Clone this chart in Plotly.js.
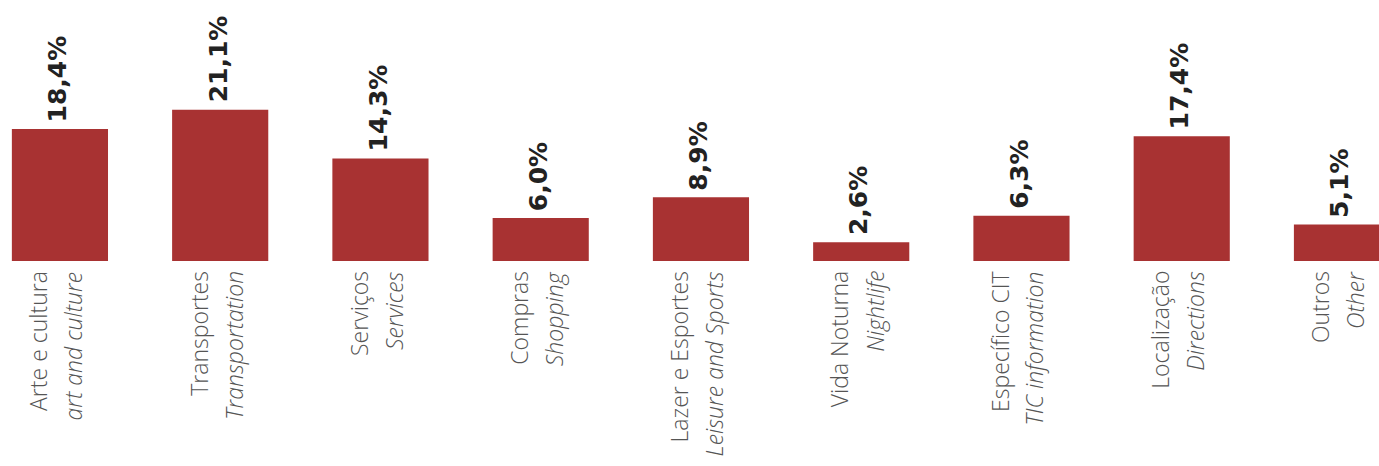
<!DOCTYPE html>
<html>
<head>
<meta charset="utf-8">
<script src="https://cdn.plot.ly/plotly-3.0.1.min.js"></script>
<style>html,body{margin:0;padding:0;background:#fff;}#chart{width:1379px;height:466px;}</style>
</head>
<body>
<div id="chart"></div>
<script>
const categoriesPt = ["Arte e cultura", "Transportes", "Serviços", "Compras", "Lazer e Esportes", "Vida Noturna", "Específico CIT", "Localização", "Outros"];
const categoriesEn = ["art and culture", "Transportation", "Services", "Shopping", "Leisure and Sports", "Nightlife", "TIC information", "Directions", "Other"];
const values = [18.4, 21.1, 14.3, 6.0, 8.9, 2.6, 6.3, 17.4, 5.1];

const valueLabels = values.map(v => v.toFixed(1).replace('.', ',') + '%');
const xIdx = categoriesPt.map((_, i) => i);

const annotations = [];
xIdx.forEach(i => {
  annotations.push({
    x: i, y: values[i], xref: 'x', yref: 'y',
    text: valueLabels[i], showarrow: false, textangle: -90,
    xanchor: 'center', yanchor: 'bottom', yshift: 5, xshift: -2,
    font: {family: 'DejaVu Sans', size: 25, color: '#222222', weight: 'bold'}
  });
  annotations.push({
    x: i, y: 0, xref: 'x', yref: 'paper',
    text: categoriesPt[i], showarrow: false, textangle: -90,
    xanchor: 'center', yanchor: 'top', yshift: -8, xshift: -22,
    font: {family: 'Open Sans', size: 23, color: '#555555', weight: 300}
  });
  annotations.push({
    x: i, y: 0, xref: 'x', yref: 'paper',
    text: categoriesEn[i], showarrow: false, textangle: -90,
    xanchor: 'center', yanchor: 'top', yshift: -8, xshift: 13,
    font: {family: 'Open Sans', size: 23, color: '#555555', weight: 300, style: 'italic'}
  });
});

const trace = {
  type: 'bar',
  x: xIdx,
  y: values,
  marker: {color: '#a83232'},
  hoverinfo: 'none'
};

const layout = {
  width: 1379, height: 466,
  margin: {l: 0, r: 0, t: 10, b: 205, pad: 0},
  paper_bgcolor: '#ffffff', plot_bgcolor: '#ffffff',
  bargap: 0.4,
  showlegend: false,
  xaxis: {range: [-0.374, 8.231], showticklabels: false, showgrid: false, zeroline: false, showline: false, ticks: ''},
  yaxis: {range: [0, 35], visible: false, showgrid: false, zeroline: false},
  annotations: annotations
};

Plotly.newPlot('chart', [trace], layout, {displayModeBar: false, staticPlot: true});
</script>
</body>
</html>
